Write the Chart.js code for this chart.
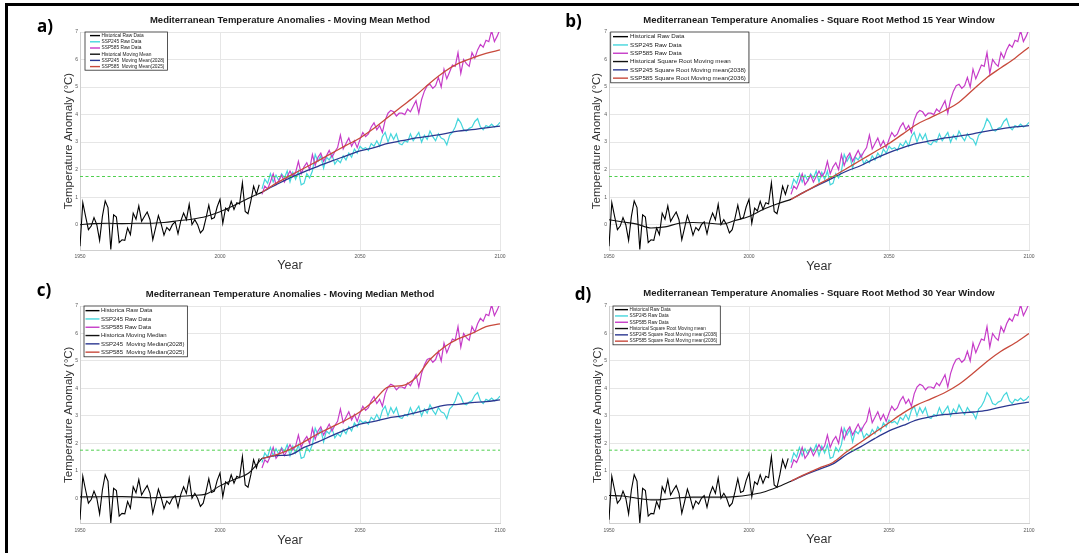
<!DOCTYPE html>
<html>
<head>
<meta charset="utf-8">
<script src="https://cdn.jsdelivr.net/npm/chart.js@4.4.1/dist/chart.umd.min.js"></script>
<style>
  html, body { margin: 0; padding: 0; background: #fff; }
  #fig { position: relative; width: 1079px; height: 553px; overflow: hidden; background: #fff; }
  #frame { position: absolute; left: 5px; top: 3px; width: 1200px; height: 700px;
           border-top: 3px solid #000; border-left: 3px solid #000; }
  canvas { position: absolute; }
</style>
</head>
<body>
<div id="fig">
  <div id="frame"></div>
  <canvas id="pa"></canvas>
  <canvas id="pb"></canvas>
  <canvas id="pc"></canvas>
  <canvas id="pd"></canvas>
</div>
<script>
// ---- data ----
const histStart = 1950;
const sspStart = 2015;
const xTicks = [1950, 2000, 2050, 2100];
const yTicks = [0, 1, 2, 3, 4, 5, 6, 7];
const yMin = -0.92;
const yMax = 7;
const threshold = 1.75;

// historical raw anomalies 1950-2014
const histRaw = [-0.78, 0.80, 0.30, -0.18, -0.05, 0.26, 0.00, -0.57, 0.30, 0.86,
  0.62, -0.90, 0.36, 0.28, -0.65, -0.55, -0.57, -0.12, -0.36, 0.42,
  0.20, 0.68, 0.12, 0.30, 0.46, 0.18, -0.55, -0.12, 0.33, 0.02,
  -0.38, -0.10, -0.21, 0.00, 0.10, -0.33, 0.14, 0.42, 0.18, 0.74,
  0.00, 0.18, 0.00, -0.30, -0.18, 0.24, 0.71, 0.21, 0.26, 0.65,
  0.92, 0.05, 0.60, 0.50, 0.85, 0.55, 0.80, 0.75, 1.52, 0.48,
  0.40, 0.85, 1.40, 1.10, 1.45];

// SSP245 raw 2015-2100
const ssp245Raw = [1.30, 1.65, 1.50, 1.85, 1.55, 1.80, 1.60, 1.85, 1.70, 1.95,
  1.55, 1.90, 1.65, 1.95, 1.45, 1.50, 1.85, 1.70, 1.95, 2.55,
  2.30, 2.50, 2.05, 2.45, 2.35, 2.55, 2.20, 2.35, 2.25, 2.50,
  2.35, 2.60, 2.45, 2.75, 2.60, 2.85, 2.75, 2.80, 2.70, 2.95,
  2.85, 3.05, 2.85, 3.20, 3.35, 3.00, 3.30, 3.10, 3.30, 2.95,
  2.90, 3.05, 3.00, 3.30, 3.05, 3.20, 3.35, 3.00, 3.25, 3.10,
  3.40, 3.20, 3.05, 3.30, 3.15, 3.10, 2.90, 3.25, 3.35, 3.55,
  3.85, 3.70, 3.45, 3.40, 3.50, 3.55, 3.75, 3.85, 3.55, 3.45,
  3.60, 3.55, 3.65, 3.55, 3.60, 3.72];

// SSP585 raw 2015-2100
const ssp585Raw = [1.10, 1.40, 1.30, 1.55, 1.85, 1.45, 1.60, 1.80, 1.55, 1.75,
  1.95, 1.75, 1.90, 2.30, 1.85, 2.10, 2.25, 2.00, 2.55, 2.15,
  2.45, 2.60, 2.30, 2.50, 2.70, 2.45, 2.65, 2.80, 3.25, 2.75,
  2.95, 3.15, 2.85, 3.05, 2.80, 3.10, 3.35, 3.20, 3.30, 3.55,
  3.70, 3.45, 3.60, 3.35, 3.80, 4.05, 4.15, 4.10, 3.95, 4.05,
  4.05, 4.00, 4.20, 4.10, 4.30, 4.50, 4.05, 4.55, 4.85, 5.05,
  5.10, 4.95, 5.05, 5.35, 5.00, 5.65, 5.30, 5.55, 5.80, 5.75,
  6.25, 5.50, 6.00, 5.85, 5.75, 6.25, 6.05, 6.35, 6.55, 6.45,
  6.70, 6.65, 7.05, 6.65, 6.85, 7.10];

// smoothed curves, sampled every 5 years
const histSmoothYears = [1950, 1955, 1960, 1965, 1970, 1975, 1980, 1985, 1990, 1995, 2000, 2005, 2010, 2015];
const sspSmoothYears = [2015, 2020, 2025, 2030, 2035, 2040, 2045, 2050, 2055, 2060, 2065, 2070, 2075, 2080, 2085, 2090, 2095, 2100];

// a) moving mean
const meanHist = [0.00, 0.04, 0.05, 0.04, 0.05, 0.05, 0.08, 0.14, 0.20, 0.30, 0.47, 0.70, 0.95, 1.18];
const mean245 = [1.18, 1.45, 1.70, 1.92, 2.12, 2.32, 2.50, 2.68, 2.80, 2.95, 3.05, 3.15, 3.22, 3.30, 3.40, 3.45, 3.52, 3.58];
const mean585 = [1.18, 1.50, 1.78, 2.05, 2.32, 2.60, 2.88, 3.15, 3.50, 3.90, 4.30, 4.70, 5.15, 5.55, 5.85, 6.05, 6.22, 6.35];

// b) square root, 15 year window
const sqrt15Hist = [0.18, 0.10, 0.02, -0.12, -0.08, 0.05, 0.08, 0.06, 0.02, 0.15, 0.30, 0.55, 0.75, 0.92];
const sqrt15_245 = [0.92, 1.20, 1.45, 1.70, 1.95, 2.15, 2.40, 2.62, 2.80, 2.95, 3.05, 3.15, 3.22, 3.30, 3.40, 3.48, 3.55, 3.60];
const sqrt15_585 = [0.92, 1.20, 1.48, 1.75, 2.05, 2.35, 2.65, 2.95, 3.30, 3.65, 3.90, 4.15, 4.45, 4.90, 5.35, 5.70, 6.05, 6.45];

// c) moving median
const medHist = [0.05, 0.05, 0.06, 0.06, 0.04, 0.02, 0.03, 0.06, 0.10, 0.15, 0.45, 0.68, 0.90, 1.45];
const med245 = [1.45, 1.55, 1.58, 1.85, 2.05, 2.28, 2.50, 2.70, 2.80, 2.92, 3.00, 3.12, 3.25, 3.38, 3.42, 3.48, 3.52, 3.58];
const med585 = [1.45, 1.58, 1.78, 2.05, 2.35, 2.60, 2.85, 3.15, 3.55, 4.05, 4.10, 4.40, 5.05, 5.50, 5.80, 6.00, 6.25, 6.35];

// d) square root, 30 year window
const sqrt30Hist = [0.10, 0.08, 0.00, -0.06, -0.04, 0.02, 0.04, 0.04, 0.04, 0.06, 0.12, 0.22, 0.40, 0.62];
const sqrt30_245 = [0.62, 0.85, 1.05, 1.25, 1.60, 1.88, 2.18, 2.45, 2.65, 2.85, 2.97, 3.05, 3.10, 3.14, 3.20, 3.32, 3.42, 3.50];
const sqrt30_585 = [0.62, 0.87, 1.10, 1.30, 1.70, 2.05, 2.40, 2.75, 3.10, 3.40, 3.62, 3.85, 4.15, 4.55, 4.98, 5.35, 5.65, 6.00];

// ---- styling ----
const colors = ['#000000', '#45d6dc', '#c63cc8', '#111111', '#2b3790', '#c84a3c'];
const green = '#4fcf4f';
Chart.defaults.font.family = '"Liberation Sans", Arial, sans-serif';

const histYears = histRaw.map((_, i) => histStart + i);
const sspYears = ssp245Raw.map((_, i) => sspStart + i);
const pts = (xs, ys) => ys.map((v, i) => ({ x: xs[i], y: v }));

const panelDeco = {
  id: 'panelDeco',
  afterDatasetsDraw(chart, args, o) {
    const { ctx, chartArea: a } = chart;
    ctx.save();
    // legend box
    const items = chart.data.datasets.filter(d => d.inLegend !== false);
    const lg = o.legend;
    ctx.font = lg.font + 'px "Liberation Sans", Arial, sans-serif';
    const tw = Math.max(...items.map(d => ctx.measureText(d.label).width));
    const x0 = a.left + lg.dx, y0 = a.top + lg.dy;
    const w = lg.inset + lg.line + lg.gap + tw + 3;
    const h = items.length * lg.row + 1;
    ctx.fillStyle = '#fff';
    ctx.fillRect(x0, y0, w, h);
    ctx.strokeStyle = '#2a2a2a';
    ctx.lineWidth = 0.8;
    ctx.strokeRect(x0, y0, w, h);
    ctx.textBaseline = 'middle';
    ctx.textAlign = 'left';
    items.forEach((d, i) => {
      const cy = y0 + 0.5 + lg.row * (i + 0.5);
      ctx.strokeStyle = d.borderColor;
      ctx.lineWidth = 1.4;
      ctx.beginPath();
      ctx.moveTo(x0 + lg.inset, cy);
      ctx.lineTo(x0 + lg.inset + lg.line, cy);
      ctx.stroke();
      ctx.fillStyle = '#222';
      ctx.fillText(d.label, x0 + lg.inset + lg.line + lg.gap, cy);
    });
    ctx.restore();
  },
  afterDraw(chart, args, o) {
    const { ctx, chartArea: a } = chart;
    ctx.save();
    ctx.fillStyle = '#1a1a1a';
    ctx.textAlign = 'center';
    ctx.textBaseline = 'middle';
    ctx.font = 'bold 9.5px "Liberation Sans", Arial, sans-serif';
    ctx.fillText(o.title, (a.left + a.right) / 2, o.titleY);
    ctx.fillStyle = '#000';
    ctx.font = 'bold 17px "Open Sans", sans-serif';
    ctx.fillText(o.letter, o.letterX, o.letterY);
    ctx.restore();
  }
};

function makePanel(id, g, p) {
  const cv = document.getElementById(id);
  cv.width = g.w; cv.height = g.h;
  cv.style.left = g.left + 'px'; cv.style.top = g.top + 'px';
  const yTitleSize = 11.5, xTitleSize = 12.5;
  const axisLeft = g.yTitleX - g.left - yTitleSize * 1.2 / 2;
  const axisBottom = g.yearY - g.top + xTitleSize * 1.2 / 2;
  const areaL = g.area.l - g.left, areaR = g.area.r - g.left;
  const areaT = g.area.t - g.top, areaB = g.area.b - g.top;

  const sets = [
    { label: p.labels[0], data: pts(histYears, histRaw), borderWidth: 1.1 },
    { label: p.labels[1], data: pts(sspYears, ssp245Raw), borderWidth: 1.2 },
    { label: p.labels[2], data: pts(sspYears, ssp585Raw), borderWidth: 1.2 },
    { label: p.labels[3], data: pts(histSmoothYears, p.hist), borderWidth: 1.1, cubicInterpolationMode: 'monotone' },
    { label: p.labels[4], data: pts(sspSmoothYears, p.s245), borderWidth: 1.3, cubicInterpolationMode: 'monotone' },
    { label: p.labels[5], data: pts(sspSmoothYears, p.s585), borderWidth: 1.3, cubicInterpolationMode: 'monotone' }
  ].map((d, i) => Object.assign(d, { borderColor: colors[i], order: 20 - i }));
  sets.push({
    label: 'threshold', inLegend: false, order: 0,
    data: [{ x: histStart, y: threshold }, { x: 2100, y: threshold }],
    borderColor: green, borderWidth: 1, borderDash: [3, 2.5]
  });

  new Chart(cv, {
    type: 'line',
    data: { datasets: sets },
    options: {
      responsive: false,
      animation: false,
      devicePixelRatio: 1,
      elements: { point: { radius: 0 }, line: { tension: 0 } },
      layout: { padding: { left: axisLeft, top: areaT, right: g.w - areaR, bottom: g.h - axisBottom } },
      plugins: {
        legend: { display: false },
        tooltip: { enabled: false },
        panelDeco: { title: p.title, letter: p.letter, titleY: g.titleY - g.top,
                     letterX: g.letterX - g.left, letterY: g.letterY - g.top, legend: p.legend }
      },
      scales: {
        x: {
          type: 'linear', min: xTicks[0], max: xTicks[xTicks.length - 1],
          afterBuildTicks: s => { s.ticks = xTicks.map(v => ({ value: v })); },
          afterFit: s => { s.height = axisBottom - areaB; s.paddingLeft = 0; s.paddingRight = 0; },
          grid: { color: '#e6e6e6', drawTicks: false },
          border: { color: '#cfcfcf' },
          ticks: { font: { size: 5 }, color: '#555', padding: 4, maxRotation: 0, autoSkip: false,
                   callback: v => String(v) },
          title: { display: true, text: 'Year', color: '#333', font: { size: xTitleSize },
                   padding: { top: 0, bottom: 0 } }
        },
        y: {
          min: yMin, max: yMax,
          afterBuildTicks: s => { s.ticks = yTicks.map(v => ({ value: v })); },
          afterFit: s => { s.width = areaL - axisLeft; s.paddingTop = 0; s.paddingBottom = 0; },
          grid: { color: '#e6e6e6', drawTicks: false },
          border: { color: '#cfcfcf' },
          ticks: { font: { size: 5 }, color: '#555', padding: 2, callback: v => String(v) },
          title: { display: true, text: 'Temperature Anomaly (°C)', color: '#333', font: { size: yTitleSize },
                   padding: { top: 0, bottom: 0 } }
        }
      }
    },
    plugins: [panelDeco]
  });
}

makePanel('pa',
  { left: 0, top: 0, w: 540, h: 278, area: { l: 80, r: 500, t: 32, b: 250 },
    yTitleX: 69, yearY: 266, titleY: 20, letterX: 45, letterY: 27 },
  { title: 'Mediterranean Temperature Anomalies - Moving Mean Method', letter: 'a)',
    hist: meanHist, s245: mean245, s585: mean585,
    labels: ['Historical Raw Data', 'SSP245 Raw Data', 'SSP585 Raw Data', 'Historical Moving Mean',
             'SSP245  Moving Mean(2028)', 'SSP585  Moving Mean(2025)'],
    legend: { dx: 5, dy: 0, row: 6.2, font: 4.8, inset: 5, line: 10, gap: 1.5 } });

makePanel('pb',
  { left: 540, top: 0, w: 539, h: 278, area: { l: 609, r: 1029, t: 32, b: 250 },
    yTitleX: 597, yearY: 266.5, titleY: 20.5, letterX: 573.5, letterY: 22 },
  { title: 'Mediterranean Temperature Anomalies - Square Root Method 15 Year Window', letter: 'b)',
    hist: sqrt15Hist, s245: sqrt15_245, s585: sqrt15_585,
    labels: ['Historical Raw Data', 'SSP245 Raw Data', 'SSP585 Raw Data', 'Historical Square Root Moving mean',
             'SSP245 Square Root Moving mean(2038)', 'SSP585 Square Root Moving mean(2036)'],
    legend: { dx: 1.7, dy: 0, row: 8.3, font: 6.2, inset: 2.3, line: 15, gap: 2 } });

makePanel('pc',
  { left: 0, top: 276, w: 540, h: 277, area: { l: 80, r: 500, t: 306, b: 523.5 },
    yTitleX: 69, yearY: 541, titleY: 294.5, letterX: 44, letterY: 291 },
  { title: 'Mediterranean Temperature Anomalies - Moving Median Method', letter: 'c)',
    hist: medHist, s245: med245, s585: med585,
    labels: ['Historica Raw Data', 'SSP245 Raw Data', 'SSP585 Raw Data', 'Historica Moving Median',
             'SSP245  Moving Median(2028)', 'SSP585  Moving Median(2025)'],
    legend: { dx: 4, dy: 0, row: 8.3, font: 6, inset: 1.5, line: 14, gap: 1.5 } });

makePanel('pd',
  { left: 540, top: 276, w: 539, h: 277, area: { l: 609, r: 1029, t: 306, b: 523.5 },
    yTitleX: 598, yearY: 540, titleY: 293.5, letterX: 583, letterY: 295 },
  { title: 'Mediterranean Temperature Anomalies - Square Root Method 30 Year Window', letter: 'd)',
    hist: sqrt30Hist, s245: sqrt30_245, s585: sqrt30_585,
    labels: ['Historical Raw Data', 'SSP245 Raw Data', 'SSP585 Raw Data', 'Historical Square Root Moving mean',
             'SSP245 Square Root Moving mean(2038)', 'SSP585 Square Root Moving mean(2036)'],
    legend: { dx: 4, dy: 0, row: 6.3, font: 4.7, inset: 2, line: 13, gap: 1.5 } });
</script>
</body>
</html>
